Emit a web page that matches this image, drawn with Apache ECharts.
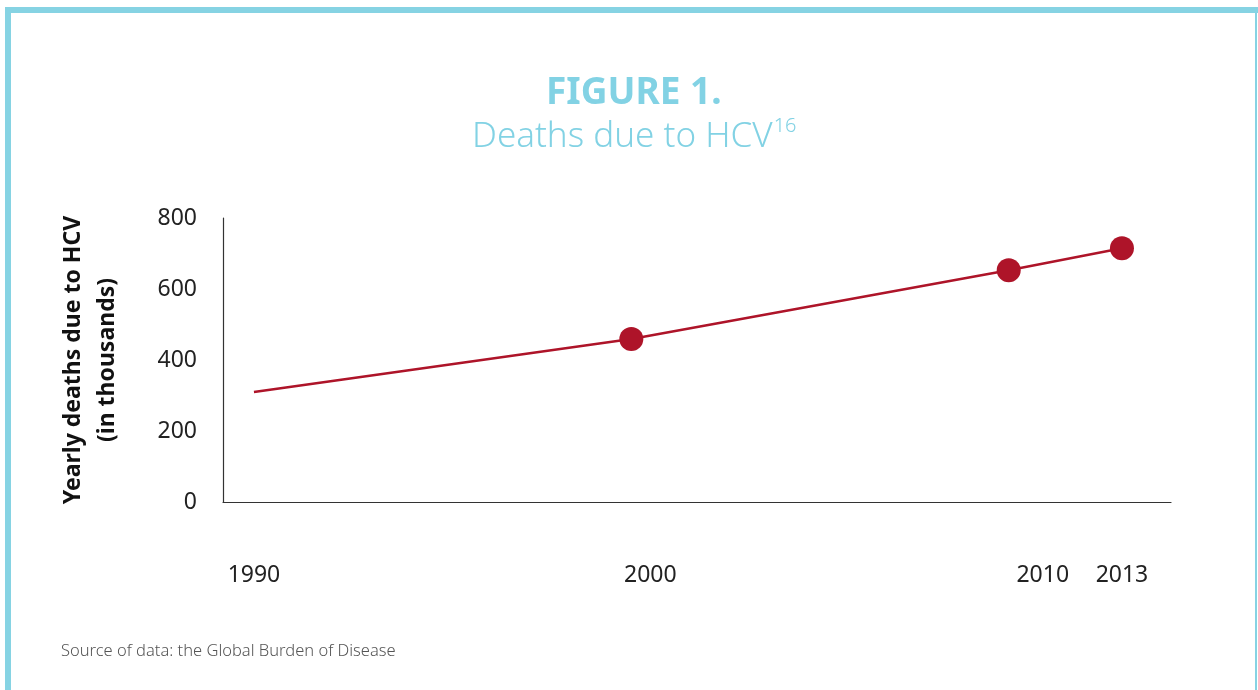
<!DOCTYPE html>
<html>
<head>
<meta charset="utf-8">
<script src="https://cdn.jsdelivr.net/npm/echarts@6/dist/echarts.min.js"></script>
<style>
html,body{margin:0;padding:0;background:#fff;}
#chart{width:1258px;height:690px;}
</style>
</head>
<body>
<div id="chart"></div>
<script>
// Data
const years = [1990, 2000, 2010, 2013];
const deaths = [310, 459, 653, 715];
const tickYears = [1990, 2000, 2010, 2013];
const yTicks = [0, 200, 400, 600, 800];

const FONT = '"Noto Sans", "Open Sans", sans-serif';
const BLUE = '#86d3e3';
const RED = '#ae1429';

// style: horizontal label offsets (px) seen in the reference
const labelPad = {2000: 38, 2010: 68};

const chart = echarts.init(document.getElementById('chart'), null, {renderer: 'canvas'});
chart.setOption({
  animation: false,
  backgroundColor: '#fff',
  title: [{
    text: 'FIGURE 1.',
    left: 541,
    top: 70,
    textStyle: {fontFamily: FONT, fontSize: 37, fontWeight: 'bold', color: '#82d2e4'}
  }, {
    text: '{a|Deaths due to HCV}{b|16}',
    left: 467,
    top: 111,
    textStyle: {
      rich: {
        a: {fontFamily: FONT, fontSize: 35, fontWeight: 300, color: '#82d2e4', lineHeight: 42},
        b: {fontFamily: FONT, fontSize: 20, fontWeight: 300, color: '#82d2e4', lineHeight: 42, verticalAlign: 'top', padding: [0, 0, 14, 1]}
      }
    }
  }],
  graphic: [
    {type: 'rect', shape: {x: 5, y: 7, width: 1253, height: 6}, style: {fill: BLUE}, silent: true},
    {type: 'rect', shape: {x: 5, y: 7, width: 6, height: 690}, style: {fill: BLUE}, silent: true},
    {type: 'rect', shape: {x: 1255, y: 7, width: 2, height: 690}, style: {fill: BLUE}, silent: true},
    {type: 'text', left: 61, top: 643, style: {text: 'Source of data: the Global Burden of Disease', fontFamily: FONT, fontSize: 16.5, fontWeight: 300, fill: '#555'}}
  ],
  grid: {left: 223, right: 87, top: 218, bottom: 188, containLabel: false},
  xAxis: {
    type: 'value',
    min: 1989.18,
    max: 2014.3,
    splitLine: {show: false},
    axisTick: {show: false},
    axisLine: {show: true, lineStyle: {color: '#333', width: 1.2}},
    axisLabel: {
      customValues: tickYears,
      margin: 62,
      fontFamily: FONT,
      fontSize: 23,
      color: '#222',
      formatter: v => labelPad[v] ? `{p${labelPad[v]}|${v}}` : String(v),
      rich: {
        p38: {padding: [0, 0, 0, 38], fontFamily: FONT, fontSize: 23, color: '#222'},
        p68: {padding: [0, 0, 0, 68], fontFamily: FONT, fontSize: 23, color: '#222'}
      }
    }
  },
  yAxis: {
    type: 'value',
    min: 0,
    max: 800,
    interval: 200,
    splitLine: {show: false},
    axisTick: {show: false},
    axisLine: {show: true, lineStyle: {color: '#333', width: 1.2}},
    axisLabel: {margin: 26, fontFamily: FONT, fontSize: 23, color: '#222'},
    name: 'Yearly deaths due to HCV\n(in thousands)',
    nameLocation: 'middle',
    nameRotate: 90,
    nameGap: 99,
    nameTextStyle: {fontFamily: FONT, fontSize: 23, fontWeight: 'bold', color: '#111', lineHeight: 34, align: 'center'}
  },
  series: [{
    type: 'line',
    data: years.map((y, i) => [y, deaths[i]]),
    symbol: (val, params) => params.dataIndex === 0 ? 'none' : 'circle',
    symbolSize: 24,
    showAllSymbol: true,
    lineStyle: {color: RED, width: 2.5},
    itemStyle: {color: RED, borderWidth: 0}
  }]
});
</script>
</body>
</html>
